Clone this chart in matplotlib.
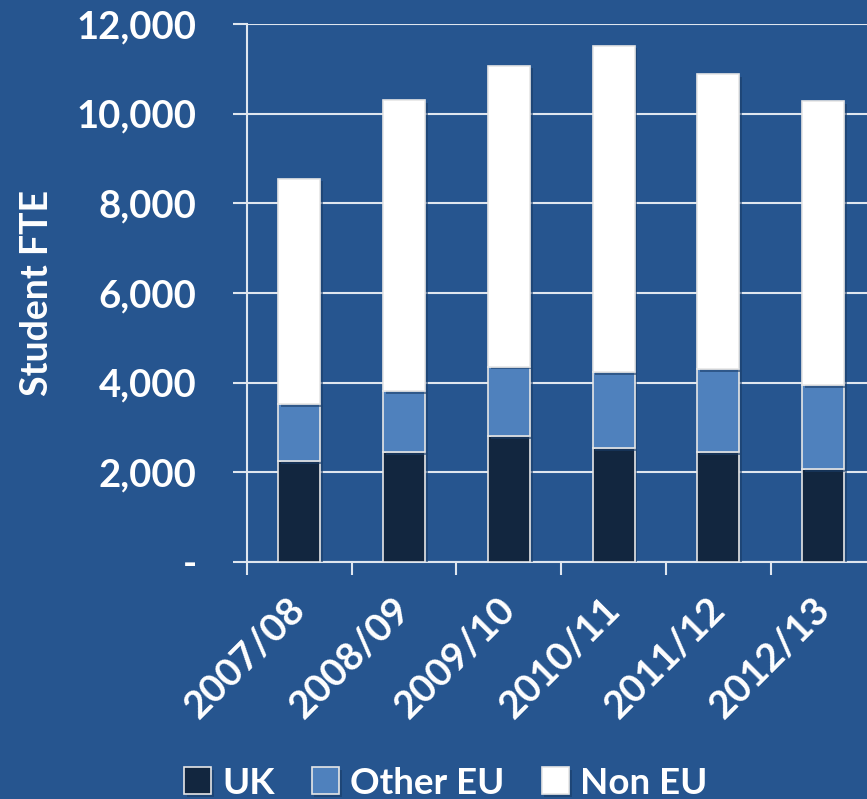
import numpy as np
import matplotlib.pyplot as plt
import matplotlib.patheffects as pe
from matplotlib.ticker import FuncFormatter

years = ["2007/08", "2008/09", "2009/10", "2010/11", "2011/12", "2012/13"]
uk = [2250, 2450, 2800, 2540, 2450, 2070]
other_eu = [1270, 1360, 1560, 1700, 1850, 1880]
non_eu = [5030, 6490, 6710, 7280, 6580, 6330]

bg = "#26558f"
plt.rcParams['font.family'] = ['Lato', 'DejaVu Sans']
plt.rcParams['font.weight'] = 'bold'

fig = plt.figure(figsize=(8.67, 7.99), dpi=100, facecolor=bg)
ax = fig.add_axes([246.7 / 867, 1 - 562 / 799, 629 / 867, 538 / 799])
ax.set_facecolor(bg)

x = np.arange(len(years))
uk_a = np.array(uk)
oeu_a = np.array(other_eu)
shadow = [pe.SimplePatchShadow(offset=(2, -2), shadow_rgbFace='#1a3d68', alpha=0.6), pe.Normal()]
b1 = ax.bar(x, uk, 0.4, color="#12263f", edgecolor="#e6e6e6", linewidth=1.2, label="UK", zorder=3)
b2 = ax.bar(x, other_eu, 0.4, bottom=uk_a, color="#4f81bd", edgecolor="#e6e6e6", linewidth=1.2,
            label="Other EU", zorder=3)
b3 = ax.bar(x, non_eu, 0.4, bottom=uk_a + oeu_a, color="white", edgecolor="#e6e6e6", linewidth=1.2,
            label="Non EU", zorder=3)
for bars in (b1, b2, b3):
    for p in bars:
        p.set_path_effects(shadow)

ax.set_xlim(-0.5, 5.5)
ax.set_ylim(0, 12000)
ax.set_yticks(range(0, 12001, 2000))
ax.yaxis.set_major_formatter(FuncFormatter(lambda v, p: "-" if v == 0 else f"{int(v):,}"))
ax.grid(axis='y', color='#dfe6ef', linewidth=1.5, zorder=0)

ax.set_xticks(np.arange(-0.5, 5.6, 1.0))
ax.set_xticklabels([])
ax.set_xticks(x, minor=True)
ax.set_xticklabels(years, minor=True, rotation=45, ha='right', va='center',
                   rotation_mode='anchor', fontsize=28, color='white', fontweight='bold')
ax.tick_params(axis='x', which='major', length=9.5, width=1.5, color='#dfe6ef')
ax.tick_params(axis='x', which='minor', length=0, pad=30)
ax.tick_params(axis='y', length=10, width=1.5, color='#dfe6ef', labelsize=27.5,
               labelcolor='white', pad=26)

for s in ['top', 'right']:
    ax.spines[s].set_visible(False)
ax.spines['left'].set_color('#dfe6ef')
ax.spines['left'].set_linewidth(1.5)
ax.spines['bottom'].set_color('#dfe6ef')
ax.spines['bottom'].set_linewidth(1.5)

fig.text(37 / 867, 1 - 293 / 799, "Student FTE", rotation=90, ha='center', va='center',
         fontsize=27, color='white', fontweight='bold')

leg = fig.legend(handles=[b1, b2, b3], loc='center', bbox_to_anchor=(0.514, 1 - 783 / 799), ncol=3,
                 frameon=False, fontsize=26.5, handlelength=0.75, handleheight=0.75,
                 handletextpad=0.3, columnspacing=1.0, borderpad=0)
for t in leg.get_texts():
    t.set_color('white')
    t.set_fontweight('bold')

fig.savefig("out.png", dpi=100, facecolor=bg)
